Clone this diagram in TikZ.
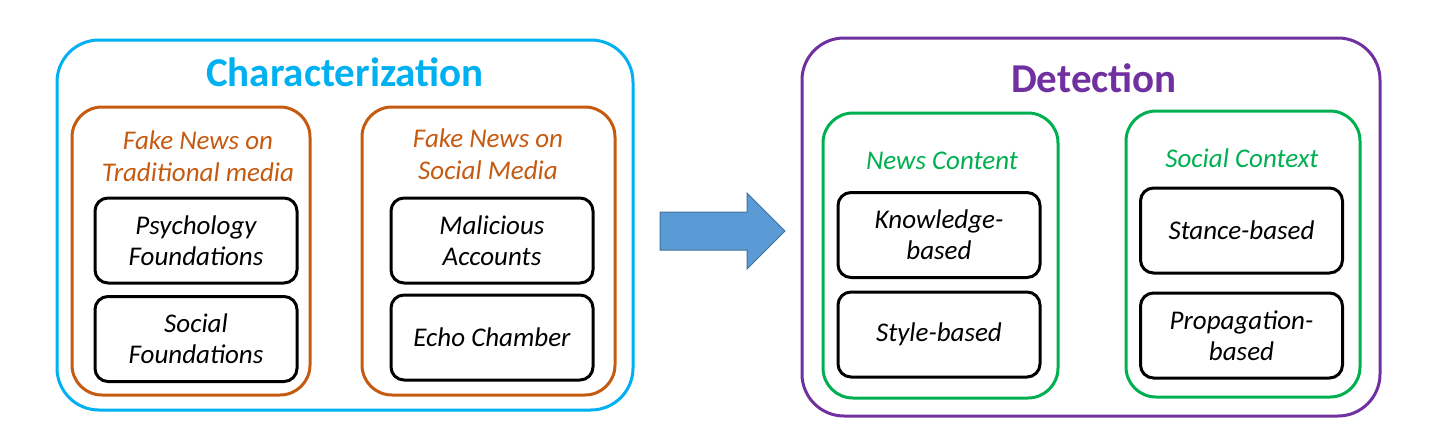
\documentclass[tikz,border=0pt]{standalone}
\usepackage{fontspec}
\setmainfont{Carlito}
\definecolor{cblue}{HTML}{00B0F0}
\definecolor{corange}{HTML}{C55A11}
\definecolor{cpurple}{HTML}{7030A0}
\definecolor{cgreen}{HTML}{00B050}
\definecolor{carrowfill}{HTML}{5B9BD5}
\definecolor{carrowline}{HTML}{41719C}
\begin{document}
\begin{tikzpicture}[x=1pt,y=-1pt,
  outerbox/.style={draw, line width=3pt, rounded corners=42pt, inner sep=0pt},
  groupbox/.style={draw, line width=3pt, rounded corners=30pt, inner sep=0pt},
  leafbox/.style={draw=black, line width=3pt, rounded corners=13pt, inner sep=0pt,
    minimum width=202pt, minimum height=85pt, align=center,
    font=\fontsize{27}{31}\selectfont\itshape},
  maintitle/.style={font=\fontsize{41}{44}\selectfont\bfseries, inner sep=0pt},
  grouptitle/.style={font=\fontsize{27}{32}\selectfont\itshape, align=center, inner sep=0pt}
]
\useasboundingbox (0,0) rectangle (1437,440);
% Characterization
\node[outerbox, draw=cblue, minimum width=576pt, minimum height=370pt] (charbox) at (345,225) {};
\node[maintitle, text=cblue] (chartitle) at (345,72) {Characterization};
\node[groupbox, draw=corange, minimum width=238pt, minimum height=288pt] (tradbox) at (191,251) {};
\node[grouptitle, text=corange] (tradtitle) at (198,156) {Fake News on\\Traditional media};
\node[groupbox, draw=corange, minimum width=253pt, minimum height=288pt] (socbox) at (488.5,251) {};
\node[grouptitle, text=corange] (soctitle) at (488,154) {Fake News on\\Social Media};
\node[leafbox] (psych) at (196,240.5) {Psychology\\Foundations};
\node[leafbox] (socfound) at (196,339) {Social\\Foundations};
\node[leafbox] (malic) at (492,240.5) {Malicious\\Accounts};
\node[leafbox] (echo) at (492,337.5) {Echo Chamber};
% Arrow
\coordinate (a1) at (660,212);
\draw[line width=1pt, draw=carrowline, fill=carrowfill]
  (a1) -- (747,212) -- (747,193) -- (785,231) -- (747,269) -- (747,250) -- (660,250) -- cycle;
% Detection
\node[outerbox, draw=cpurple, minimum width=578pt, minimum height=378pt] (detbox) at (1091,227) {};
\node[maintitle, text=cpurple] (dettitle) at (1094,78) {Detection};
\node[groupbox, draw=cgreen, minimum width=235pt, minimum height=285pt] (ncbox) at (940.5,255.5) {};
\node[grouptitle, text=cgreen] (nctitle) at (942,161) {News Content};
\node[groupbox, draw=cgreen, minimum width=234pt, minimum height=286pt] (scbox) at (1243,254) {};
\node[grouptitle, text=cgreen] (sctitle) at (1242,158) {Social Context};
\node[leafbox] (know) at (939,235) {Knowledge-\\based};
\node[leafbox] (style) at (939,334.5) {Style-based};
\node[leafbox] (stance) at (1241.5,230.5) {Stance-based};
\node[leafbox] (prop) at (1241.5,335.5) {Propagation-\\based};
\end{tikzpicture}
\end{document}
